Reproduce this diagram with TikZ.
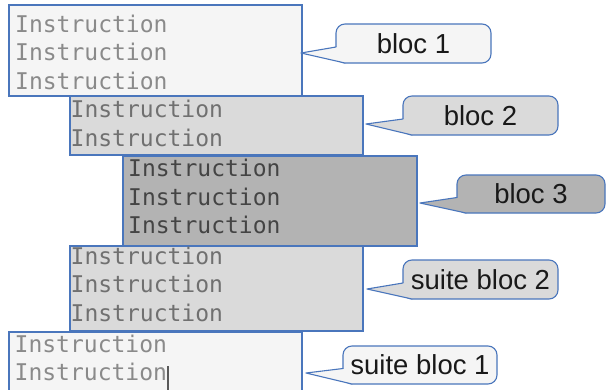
\documentclass[tikz,border=0pt]{standalone}
\usepackage{fontspec}
\setmainfont{Liberation Sans}
\newfontfamily\monof{DejaVu Sans Mono}
\usetikzlibrary{calc}
\definecolor{edge}{HTML}{4A76BC}
\definecolor{lite}{HTML}{F5F5F5}
\definecolor{mid}{HTML}{DADADA}
\definecolor{dark}{HTML}{B3B3B3}
\definecolor{txtA}{HTML}{8A8A8A}
\definecolor{txtB}{HTML}{707070}
\definecolor{txtC}{HTML}{444444}
\newcommand\calltail[3]{%
  \fill[#3] ($(#1.west)+(0,3.5)$) -- (#2) -- ($(#1.south west)+(9,0)$) -- ($(#1.west)+(9,3.5)$) -- cycle;
  \draw[tail] ($(#1.west)+(0,3.5)$) -- (#2) -- ($(#1.south west)+(9,0)$);
}
\begin{document}
\begin{tikzpicture}[x=1pt,y=-1pt,
  box/.style={draw=edge,line width=1.1pt,anchor=north west,inner sep=0pt,outer sep=0pt},
  instr/.style={anchor=base west,inner sep=0pt,font=\monof\fontsize{23}{28}\selectfont},
  bubble/.style={draw=edge,line width=1.1pt,rounded corners=9pt,inner sep=0pt,outer sep=0pt,
    text=black!90,font=\fontsize{27.5}{30}\selectfont},
  tail/.style={draw=edge,line width=1.1pt,line join=round,line cap=round}]
\useasboundingbox (0,0) rectangle (606,389);
\fill[white] (0,0) rectangle (606,389);
% boxes
\node[box,fill=lite,minimum width=293pt,minimum height=91pt] (b1) at (9,5) {};
\foreach \y [count=\i] in {32,60.5,89} \node[instr,text=txtA] (t1\i) at (15,\y) {Instruction};
\node[box,fill=mid,minimum width=293pt,minimum height=59pt] (b2) at (70,96) {};
\foreach \y [count=\i] in {117,146} \node[instr,text=txtB] (t2\i) at (70.5,\y) {Instruction};
\node[box,fill=dark,minimum width=294pt,minimum height=90pt] (b3) at (123,156) {};
\foreach \y [count=\i] in {176,205,233.5} \node[instr,text=txtC] (t3\i) at (128,\y) {Instruction};
\node[box,fill=mid,minimum width=293pt,minimum height=85pt] (b4) at (70,246) {};
\foreach \y [count=\i] in {264,292.5,321} \node[instr,text=txtB] (t4\i) at (70.5,\y) {Instruction};
\node[box,fill=lite,minimum width=293pt,minimum height=60pt] (b5) at (9,332) {};
\foreach \y [count=\i] in {352,380.5} \node[instr,text=txtA] (t5\i) at (14.5,\y) {Instruction};
\draw[line width=2pt,black!65] (168,366) -- (168,390);
% callouts
\node[bubble,fill=lite,minimum width=155pt,minimum height=39pt] (c1) at (413.5,43.5) {bloc 1};
\coordinate (p1) at ($(b1.east)+(-1,2.5)$);
\calltail{c1}{p1}{lite}
\node[bubble,fill=mid,minimum width=155pt,minimum height=39pt] (c2) at (480.5,115.5) {bloc 2};
\coordinate (p2) at ($(b2.east)+(3,-1.5)$);
\calltail{c2}{p2}{mid}
\node[bubble,fill=dark,minimum width=148pt,minimum height=38pt] (c3) at (531,194) {bloc 3};
\coordinate (p3) at ($(b3.east)+(3,2)$);
\calltail{c3}{p3}{dark}
\node[bubble,fill=mid,minimum width=155pt,minimum height=39pt] (c4) at (480.5,279.5) {suite bloc 2};
\coordinate (p4) at ($(b4.east)+(4,0.5)$);
\calltail{c4}{p4}{mid}
\node[bubble,fill=lite,minimum width=154pt,minimum height=38pt] (c5) at (420,365) {suite bloc 1};
\coordinate (p5) at ($(b5.east)+(4,11)$);
\calltail{c5}{p5}{lite}
\end{tikzpicture}
\end{document}
